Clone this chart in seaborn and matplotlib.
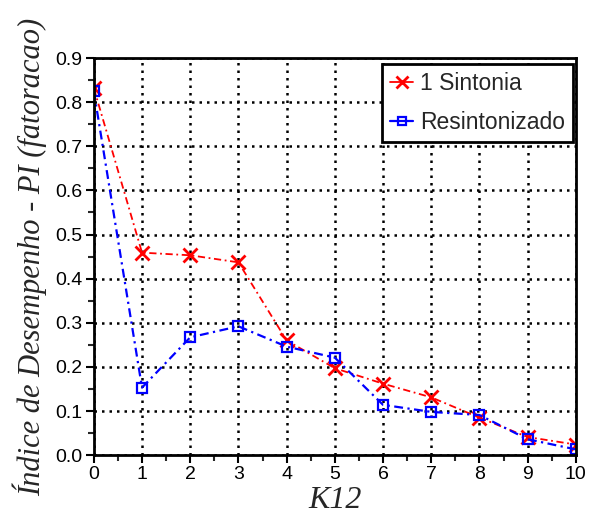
import numpy as np
import pandas as pd
import matplotlib
matplotlib.use("Agg")
import matplotlib.pyplot as plt
import seaborn as sns
from matplotlib.ticker import MultipleLocator

k12 = [0, 1, 2, 3, 4, 5, 6, 7, 8, 9, 10]
sintonia = [0.832, 0.459, 0.453, 0.437, 0.260, 0.197, 0.162, 0.131, 0.085, 0.041, 0.024]
resintonizado = [0.825, 0.153, 0.267, 0.292, 0.246, 0.221, 0.114, 0.098, 0.091, 0.036, 0.013]
series_names = ["1 Sintonia", "Resintonizado"]
x_ticks = [0, 1, 2, 3, 4, 5, 6, 7, 8, 9, 10]
y_ticks = [0.0, 0.1, 0.2, 0.3, 0.4, 0.5, 0.6, 0.7, 0.8, 0.9]

sns.set_style("white")
plt.rcParams['font.family'] = ['Liberation Sans', 'DejaVu Sans']

df = pd.DataFrame({
    "K12": k12 * 2,
    "PI": sintonia + resintonizado,
    "serie": [series_names[0]] * len(k12) + [series_names[1]] * len(k12),
})

fig = plt.figure(figsize=(5.9, 5.28), dpi=100)
ax = fig.add_axes([0.159, 0.138, 0.817, 0.752])

sns.lineplot(data=df[df.serie == series_names[0]], x="K12", y="PI", ax=ax,
             color="#ff0000", linestyle=(0, (4, 2, 1, 2)), linewidth=1.3, marker="x",
             markersize=10, markeredgewidth=2.0, markeredgecolor="#ff0000",
             label=series_names[0])
sns.lineplot(data=df[df.serie == series_names[1]], x="K12", y="PI", ax=ax,
             color="#0000ff", linestyle=(0, (4, 2, 1, 2)), linewidth=1.6, marker="s",
             markersize=6.5, markerfacecolor="none", markeredgecolor="#0000ff",
             markeredgewidth=1.6, label=series_names[1])

ax.set_xlim(0, 10)
ax.set_ylim(0, 0.9)
ax.set_xticks(x_ticks)
ax.set_yticks(y_ticks)
ax.set_yticklabels([f"{v:.1f}" for v in y_ticks])
ax.xaxis.set_minor_locator(MultipleLocator(0.5))
ax.yaxis.set_minor_locator(MultipleLocator(0.05))
ax.tick_params(which="major", direction="out", length=6, width=1.5, labelsize=14,
               colors="black", bottom=True, left=True, pad=2)
ax.tick_params(which="minor", direction="out", length=4, width=1.5,
               bottom=True, left=True)
ax.grid(True, which="major", color="black", linestyle=(0, (1, 2)), linewidth=1.8)
for s in ax.spines.values():
    s.set_visible(True)
    s.set_color("black")
    s.set_linewidth(2.0)

ax.set_xlabel("K12", fontfamily="Liberation Serif", fontstyle="italic", fontsize=23, labelpad=2)
ax.set_ylabel("Índice de Desempenho - PI (fatoracao)", fontfamily="Liberation Serif",
              fontstyle="italic", fontsize=22, labelpad=6)

leg = ax.legend(loc="upper right", bbox_to_anchor=(0.994, 0.985), fontsize=16.5,
                handlelength=1.0, handletextpad=0.3, borderpad=0.35,
                labelspacing=0.7, frameon=True, fancybox=False, borderaxespad=0)
leg.get_frame().set_edgecolor("black")
leg.get_frame().set_linewidth(2.0)
leg.get_frame().set_alpha(1)
for h in leg.legend_handles:
    h.set_linestyle("-")
    h.set_markersize(h.get_markersize() * 0.8)

fig.savefig("out.png", dpi=100)
